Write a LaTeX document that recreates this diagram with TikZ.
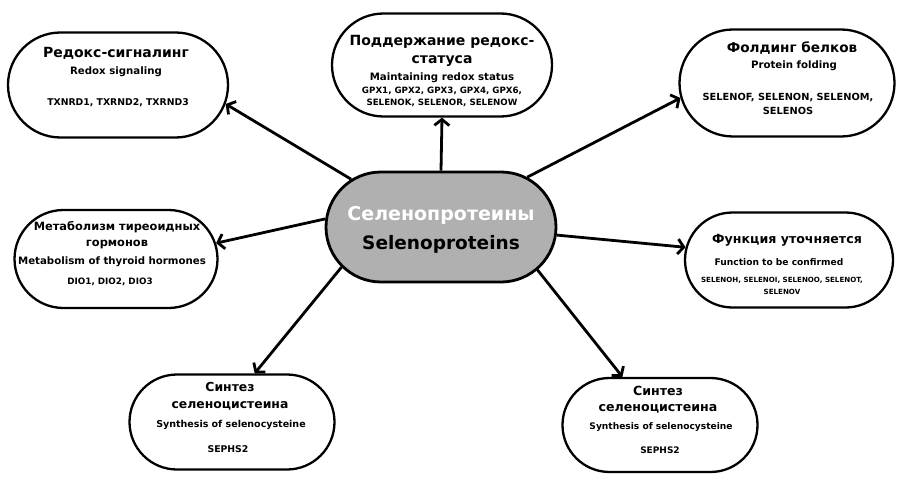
\documentclass[tikz,border=0pt]{standalone}
\usepackage{fontspec}
\setmainfont{DejaVu Sans}
\usetikzlibrary{shapes.misc,arrows.meta}
\definecolor{hubgray}{HTML}{B0B0B0}
\begin{document}
\begin{tikzpicture}[x=1pt,y=-1pt,
  box/.style={draw=black, line width=2.3pt, rounded rectangle, fill=white, inner sep=0pt},
  ttl/.style={font=\bfseries\fontsize{14}{15}\selectfont, align=center, inner sep=0pt},
  sub/.style={font=\bfseries\fontsize{10.2}{11}\selectfont, align=center, inner sep=0pt},
  gen/.style={font=\bfseries\fontsize{9.3}{12}\selectfont, align=center, inner sep=0pt},
  arr/.style={line width=2.8pt, -{Straight Barb[length=6pt,width=15pt]}}]
\useasboundingbox (0,0) rectangle (901,484);
\fill[white] (0,0) rectangle (901,484);

% hub
\node[box, fill=hubgray, line width=2.8pt, minimum width=230pt, minimum height=110pt] (c) at (441,227) {};
\node[font=\bfseries\fontsize{19}{20}\selectfont, text=white, inner sep=0pt] (ct1) at (441,215) {Селенопротеины};
\node[font=\bfseries\fontsize{18.5}{20}\selectfont, inner sep=0pt] (ct2) at (441,244) {Selenoproteins};

% boxes
\node[box, minimum width=220pt, minimum height=105pt] (b1) at (118,85) {};
\node[box, minimum width=220pt, minimum height=103pt] (b2) at (442,65) {};
\node[box, minimum width=215pt, minimum height=107pt] (b3) at (787,83) {};
\node[box, minimum width=203pt, minimum height=98pt] (b4) at (116,259) {};
\node[box, minimum width=208pt, minimum height=95pt] (b5) at (789,260) {};
\node[box, minimum width=205pt, minimum height=95pt] (b7) at (232,422) {};
\node[box, minimum width=195pt, minimum height=94pt] (b8) at (660,425) {};

% texts b1
\node[ttl] (t1a) at (116,53) {Редокс-сигналинг};
\node[sub] (t1b) at (116,72) {Redox signaling};
\node[gen] (t1c) at (118,103) {TXNRD1, TXRND2, TXRND3};
% b2
\node[ttl, font=\bfseries\fontsize{14}{18}\selectfont] (t2a) at (442,51) {Поддержание редокс-\\статуса};
\node[sub] (t2b) at (442,78) {Maintaining redox status};
\node[gen, font=\bfseries\fontsize{8.7}{12.5}\selectfont] (t2c) at (442,97) {GPX1, GPX2, GPX3, GPX4, GPX6,\\SELENOK, SELENOR, SELENOW};
% b3
\node[ttl, font=\bfseries\fontsize{13.6}{15}\selectfont] (t3a) at (792,48) {Фолдинг белков};
\node[sub] (t3b) at (794,66) {Protein folding};
\node[gen, font=\bfseries\fontsize{9.8}{14}\selectfont] (t3c) at (788,104) {SELENOF, SELENON, SELENOM,\\SELENOS};
% b4
\node[ttl, font=\bfseries\fontsize{11.4}{16}\selectfont] (t4a) at (117,235) {Метаболизм тиреоидных\\гормонов};
\node[sub] (t4b) at (112,262) {Metabolism of thyroid hormones};
\node[gen, font=\bfseries\fontsize{8.8}{12}\selectfont] (t4c) at (110,282) {DIO1, DIO2, DIO3};
% b5
\node[ttl, font=\bfseries\fontsize{12.6}{14}\selectfont] (t5a) at (787,240) {Функция уточняется};
\node[sub, font=\bfseries\fontsize{9.1}{11}\selectfont] (t5b) at (779,262) {Function to be confirmed};
\node[gen, font=\bfseries\fontsize{7.1}{12}\selectfont] (t5c) at (782,286) {SELENOH, SELENOI, SELENOO, SELENOT,\\SELENOV};
% b7
\node[ttl, font=\bfseries\fontsize{12.4}{17}\selectfont] (t7a) at (230,396) {Синтез\\селеноцистеина};
\node[sub, font=\bfseries\fontsize{9.5}{11}\selectfont] (t7b) at (231,425) {Synthesis of selenocysteine};
\node[gen, font=\bfseries\fontsize{9.3}{12}\selectfont] (t7c) at (228,449) {SEPHS2};
% b8
\node[ttl, font=\bfseries\fontsize{12.6}{16}\selectfont] (t8a) at (658,400) {Синтез\\селеноцистеина};
\node[sub, font=\bfseries\fontsize{9.1}{11}\selectfont] (t8b) at (661,427) {Synthesis of selenocysteine};
\node[gen, font=\bfseries\fontsize{9}{12}\selectfont] (t8c) at (660,450) {SEPHS2};

% arrows
\draw[arr] (c.152) -- (b1.-10);
\draw[arr] (c.north) -- (b2.south);
\draw[arr] (c.30) -- (b3.188);
\draw[arr] (c.176) -- (b4.9);
\draw[arr] (c.-4) -- (b5.173);
\draw[arr] (c.202) -- (b7.65);
\draw[arr] (c.-24) -- (b8.128);
\end{tikzpicture}
\end{document}
